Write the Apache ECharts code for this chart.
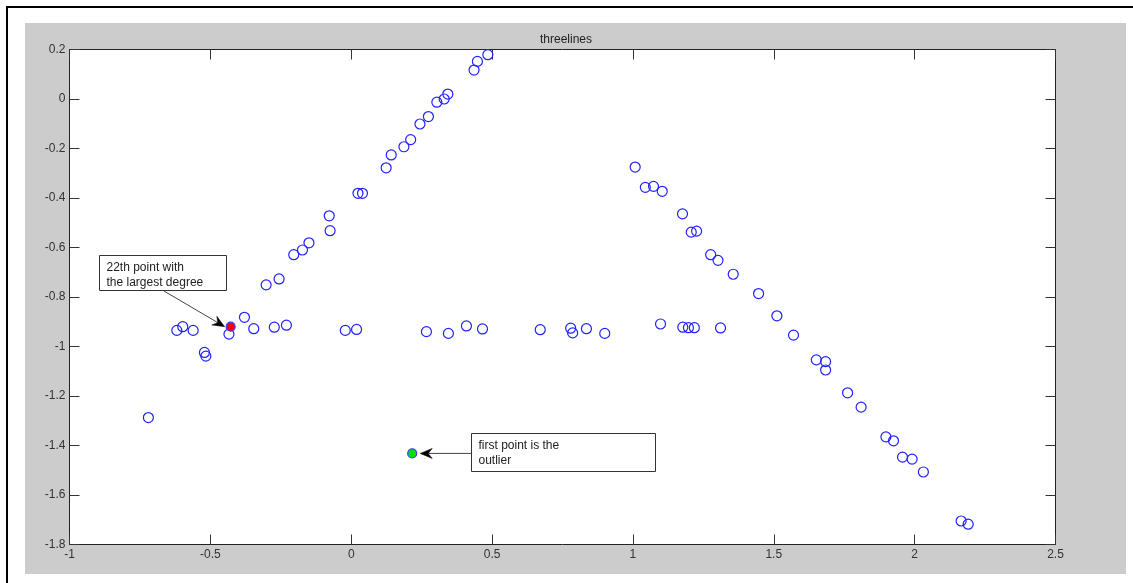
<!DOCTYPE html>
<html>
<head>
<meta charset="utf-8">
<script src="https://cdn.jsdelivr.net/npm/echarts@6/dist/echarts.min.js"></script>
<style>
  html, body { margin: 0; padding: 0; background: #fff; }
  #frame { position: absolute; left: 6px; top: 6px; width: 1200px; height: 600px; border-left: 2px solid #000; border-top: 2px solid #000; }
  #panel { position: absolute; left: 25px; top: 23px; width: 1101px; height: 551px; background: #cccccc; }
  #chart { position: absolute; left: 0; top: 0; width: 1133px; height: 583px; }
</style>
</head>
<body>
<div id="frame"></div>
<div id="panel"></div>
<div id="chart"></div>
<script>
// blue open circles
var xs = [
  -0.720, -0.521, -0.516,
  -0.619, -0.598, -0.561, -0.434, -0.379, -0.346, -0.273, -0.230, -0.021, 0.019,
  0.267, 0.345, 0.409, 0.466, 0.671, 0.779, 0.786, 0.835, 0.900,
  1.098, 1.177, 1.197, 1.218, 1.311,
  -0.302, -0.256, -0.204, -0.173, -0.150, -0.075, -0.078, 0.024, 0.040, 0.124,
  0.142, 0.187, 0.211, 0.244, 0.274, 0.304, 0.330, 0.343, 0.436, 0.448, 0.485,
  1.008, 1.044, 1.073, 1.104, 1.176, 1.207, 1.226, 1.276, 1.302, 1.356, 1.446,
  1.511, 1.570, 1.651, 1.684, 1.684, 1.762, 1.810, 1.898, 1.925, 1.957, 1.991,
  2.031, 2.165, 2.190
];
var ys = [
  -1.287, -1.024, -1.039,
  -0.935, -0.920, -0.935, -0.950, -0.882, -0.928, -0.922, -0.914, -0.935, -0.931,
  -0.940, -0.947, -0.917, -0.929, -0.932, -0.926, -0.945, -0.928, -0.947,
  -0.909, -0.922, -0.924, -0.924, -0.925,
  -0.751, -0.727, -0.629, -0.610, -0.581, -0.532, -0.472, -0.381, -0.381, -0.278,
  -0.226, -0.193, -0.164, -0.101, -0.071, -0.013, 0.000, 0.020, 0.117, 0.152, 0.179,
  -0.275, -0.357, -0.353, -0.373, -0.464, -0.538, -0.534, -0.629, -0.652, -0.708, -0.786,
  -0.876, -0.954, -1.054, -1.061, -1.095, -1.187, -1.245, -1.365, -1.381, -1.447, -1.455,
  -1.507, -1.705, -1.718
];
var outlierPoint = [0.2165, -1.432];   // first point (green)
var degreePoint = [-0.428, -0.920];    // 22th point (red)

var xTicks = [-1, 2.5, 0.5];    // min, max, step
var yTicks = [-1.8, 0.2, 0.2];

var titleText = 'threelines';
var note1 = ['22th point with', 'the largest degree'];
var note2 = ['first point is the', 'outlier'];

var FONT = '"Liberation Sans", Arial, sans-serif';
var chart = echarts.init(document.getElementById('chart'), null, { renderer: 'canvas' });

function axisCommon(extra) {
  var base = {
    type: 'value',
    axisLine: { show: true, onZero: false, lineStyle: { color: '#222', width: 1 } },
    axisTick: { show: true, inside: true, length: 10, lineStyle: { color: '#333' } },
    splitLine: { show: false },
    axisLabel: { color: '#333', fontFamily: FONT, fontSize: 12 }
  };
  return Object.assign(base, extra);
}

var option = {
  animation: false,
  backgroundColor: 'transparent',
  title: {
    text: titleText,
    left: 561, top: 29, textAlign: 'center',
    textStyle: { fontFamily: FONT, fontSize: 12, fontWeight: 'normal', color: '#222' }
  },
  grid: {
    left: 69.5, top: 49.5, right: 77.5, bottom: 38.5,
    show: true, backgroundColor: '#fff', borderWidth: 0
  },
  xAxis: [
    axisCommon({ min: xTicks[0], max: xTicks[1], interval: xTicks[2], position: 'bottom',
      axisLabel: { color: '#333', fontFamily: FONT, fontSize: 12, margin: 4 } }),
    axisCommon({ min: xTicks[0], max: xTicks[1], interval: xTicks[2], position: 'top',
      axisLabel: { show: false } })
  ],
  yAxis: [
    axisCommon({ min: yTicks[0], max: yTicks[1], interval: yTicks[2], position: 'left',
      axisLabel: { color: '#333', fontFamily: FONT, fontSize: 12, margin: 4 } }),
    axisCommon({ min: yTicks[0], max: yTicks[1], interval: yTicks[2], position: 'right',
      axisLabel: { show: false } })
  ],
  series: [
    {
      type: 'scatter',
      symbol: 'circle',
      symbolSize: 10,
      data: xs.map(function(x, i) { return [x, ys[i]]; }),
      itemStyle: { color: 'rgba(0,0,0,0)', borderColor: '#2222ff', borderWidth: 1.2, opacity: 1 }
    },
    {
      type: 'scatter',
      symbol: 'circle',
      symbolSize: 9,
      data: [degreePoint],
      itemStyle: { color: '#ff0000', borderColor: '#3a3aff', borderWidth: 1.2, opacity: 1 }
    },
    {
      type: 'scatter',
      symbol: 'circle',
      symbolSize: 9,
      data: [outlierPoint],
      itemStyle: { color: '#00e000', borderColor: '#3a3aff', borderWidth: 1.2, opacity: 1 }
    }
  ]
};
chart.setOption(option);

function arrow(from, to) {
  var dx = to[0] - from[0], dy = to[1] - from[1];
  var len = Math.sqrt(dx * dx + dy * dy);
  var ux = dx / len, uy = dy / len;
  var px = -uy, py = ux;
  var hl = 12, hw = 5, notch = 8;
  var base = [to[0] - ux * hl, to[1] - uy * hl];
  var back = [to[0] - ux * notch, to[1] - uy * notch];
  return [
    {
      type: 'line', z: 20,
      shape: { x1: from[0], y1: from[1], x2: back[0], y2: back[1] },
      style: { stroke: '#444', lineWidth: 1 }
    },
    {
      type: 'polygon', z: 21,
      shape: { points: [to, [base[0] + px * hw, base[1] + py * hw], back, [base[0] - px * hw, base[1] - py * hw]] },
      style: { fill: '#000', stroke: '#000', lineWidth: 0.5 }
    }
  ];
}

function noteBox(x, y, w, h, lines) {
  return {
    type: 'group', z: 20,
    children: [
      { type: 'rect', shape: { x: x, y: y, width: w, height: h },
        style: { fill: '#fff', stroke: '#333', lineWidth: 1 } },
      { type: 'text', style: { x: x + 7, y: y + 4, text: lines.join('\n'), font: '12px ' + FONT,
        fill: '#222', lineHeight: 15.5 } }
    ]
  };
}

var redPx = chart.convertToPixel({ seriesIndex: 1 }, degreePoint);
var greenPx = chart.convertToPixel({ seriesIndex: 2 }, outlierPoint);

var graphics = [
  noteBox(99.5, 255.5, 127, 35, note1),
  noteBox(471.5, 433.5, 184, 38, note2)
].concat(
  arrow([164, 291], [redPx[0] - 6, redPx[1]]),
  arrow([471.5, greenPx[1]], [greenPx[0] + 8, greenPx[1]])
);

chart.setOption({ graphic: graphics });
</script>
</body>
</html>
